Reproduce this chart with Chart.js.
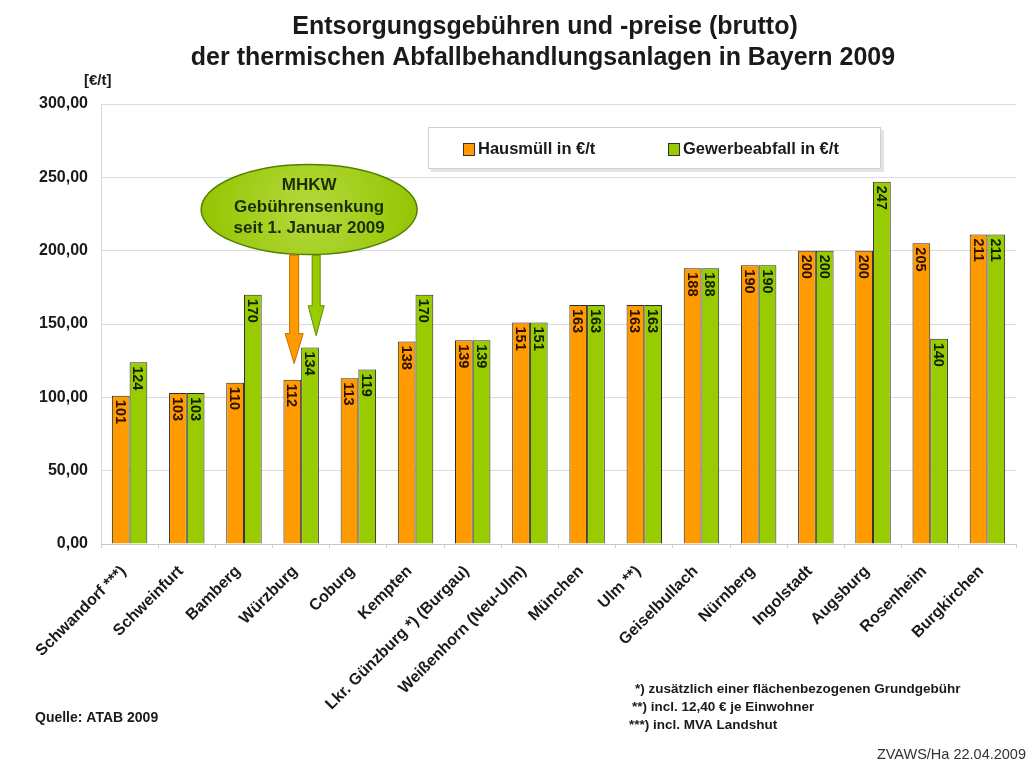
<!DOCTYPE html>
<html lang="de">
<head>
<meta charset="UTF-8">
<title>Entsorgungsgebühren Bayern 2009</title>
<script src="https://cdn.jsdelivr.net/npm/chart.js"></script>
<style>
  html, body { margin: 0; padding: 0; background: #fff; }
  .wrap { position: relative; width: 1028px; height: 763px; }
</style>
</head>
<body>
<div class="wrap"><canvas id="chart" width="1028" height="763"></canvas></div>
<script>
// data
const plants = ["Schwandorf ***)", "Schweinfurt", "Bamberg", "Würzburg", "Coburg", "Kempten",
  "Lkr. Günzburg *) (Burgau)", "Weißenhorn (Neu-Ulm)", "München", "Ulm **)", "Geiselbullach",
  "Nürnberg", "Ingolstadt", "Augsburg", "Rosenheim", "Burgkirchen"];
const hausmuell = [101, 103, 110, 112, 113, 138, 139, 151, 163, 163, 188, 190, 200, 200, 205, 211];
const gewerbe   = [124, 103, 170, 134, 119, 170, 139, 151, 163, 163, 188, 190, 200, 247, 140, 211];
const yTicks = [0, 50, 100, 150, 200, 250, 300];

const ORANGE = "#ff9a00";
const GREEN = "#99cc00";
const FONT = "'Liberation Sans', Arial, sans-serif";

// bar value labels, rotated, inside the top of each bar
const barLabels = {
  id: "barLabels",
  afterDatasetsDraw(chart) {
    const ctx = chart.ctx;
    chart.data.datasets.forEach((ds, i) => {
      chart.getDatasetMeta(i).data.forEach((bar, j) => {
        ctx.save();
        ctx.translate(bar.x, bar.y + 4);
        ctx.rotate(Math.PI / 2);
        ctx.font = "bold 14.5px " + FONT;
        ctx.fillStyle = i === 0 ? "#2e1000" : "#102000";
        ctx.textAlign = "left";
        ctx.textBaseline = "middle";
        ctx.fillText(String(ds.data[j]), 0, 1);
        ctx.restore();
      });
    });
  }
};

// titles, legend, callout and notes
const decorations = {
  id: "decorations",
  afterDraw(chart) {
    const ctx = chart.ctx;
    const x = chart.scales.x, y = chart.scales.y;
    ctx.save();

    ctx.fillStyle = "#1a1a1a";
    ctx.textAlign = "center";
    ctx.textBaseline = "middle";
    ctx.font = "bold 25px " + FONT;
    ctx.fillText("Entsorgungsgebühren und -preise (brutto)", 545, 27);
    ctx.fillText("der thermischen Abfallbehandlungsanlagen in Bayern 2009", 543, 58);

    ctx.font = "bold 15px " + FONT;
    ctx.textAlign = "left";
    ctx.fillText("[€/t]", 84, 81);

    // legend box
    ctx.fillStyle = "#e4e4e4";
    ctx.fillRect(431, 130, 453, 42);
    ctx.fillStyle = "#ffffff";
    ctx.fillRect(428, 127, 453, 42);
    ctx.strokeStyle = "#d0d0d0";
    ctx.lineWidth = 1;
    ctx.strokeRect(428.5, 127.5, 452, 41);
    const items = [[ORANGE, chart.data.datasets[0].label, 463], [GREEN, chart.data.datasets[1].label, 668]];
    ctx.font = "bold 16.5px " + FONT;
    ctx.textBaseline = "middle";
    items.forEach(([c, t, lx]) => {
      ctx.fillStyle = c;
      ctx.fillRect(lx, 143, 11, 12);
      ctx.strokeStyle = "#333";
      ctx.strokeRect(lx + 0.5, 143.5, 11, 12);
      ctx.fillStyle = "#1a1a1a";
      ctx.fillText(t, lx + 15, 149);
    });

    // callout over Würzburg
    const wx = x.getPixelForValue(3);
    const cx = wx + 8;
    const cy = y.getPixelForValue(228);
    const top = y.getPixelForValue(197);

    function arrow(ax, tipVal, color, w, hw) {
      const tip = y.getPixelForValue(tipVal);
      ctx.fillStyle = color;
      ctx.strokeStyle = color === ORANGE ? "#c86a00" : "#5e8a00";
      ctx.lineWidth = 1;
      ctx.beginPath();
      ctx.moveTo(ax - w / 2, top);
      ctx.lineTo(ax + w / 2, top);
      ctx.lineTo(ax + w / 2, tip - 30);
      ctx.lineTo(ax + hw, tip - 30);
      ctx.lineTo(ax, tip);
      ctx.lineTo(ax - hw, tip - 30);
      ctx.lineTo(ax - w / 2, tip - 30);
      ctx.closePath();
      ctx.fill();
      ctx.stroke();
    }
    arrow(wx - 7, 123, ORANGE, 9, 9);
    arrow(wx + 15, 142, GREEN, 8, 8);

    const g = ctx.createRadialGradient(cx, cy, 10, cx, cy, 110);
    g.addColorStop(0, "#b0d838");
    g.addColorStop(1, "#94c400");
    ctx.fillStyle = g;
    ctx.strokeStyle = "#557f00";
    ctx.lineWidth = 1.5;
    ctx.beginPath();
    ctx.ellipse(cx, cy, 108, 45, 0, 0, Math.PI * 2);
    ctx.fill();
    ctx.stroke();
    ctx.fillStyle = "#1c2e00";
    ctx.textAlign = "center";
    ctx.font = "bold 17px " + FONT;
    ctx.fillText("MHKW", cx, cy - 24);
    ctx.fillText("Gebührensenkung", cx, cy - 2);
    ctx.fillText("seit 1. Januar 2009", cx, cy + 19);

    // notes
    ctx.fillStyle = "#1a1a1a";
    ctx.textAlign = "left";
    ctx.font = "bold 14px " + FONT;
    ctx.fillText("Quelle: ATAB 2009", 35, 718);
    ctx.font = "bold 13.5px " + FONT;
    ctx.fillText("*) zusätzlich einer flächenbezogenen Grundgebühr", 635, 689);
    ctx.fillText("**) incl. 12,40 € je Einwohner", 632, 707);
    ctx.fillText("***) incl. MVA Landshut", 629, 725);
    ctx.font = "14.5px " + FONT;
    ctx.textAlign = "right";
    ctx.fillStyle = "#333";
    ctx.fillText("ZVAWS/Ha 22.04.2009", 1026, 755);
    ctx.restore();
  }
};

new Chart(document.getElementById("chart"), {
  type: "bar",
  data: {
    labels: plants,
    datasets: [
      { label: "Hausmüll in €/t", data: hausmuell, backgroundColor: ORANGE, borderColor: "#2a2a2a", borderWidth: 1 },
      { label: "Gewerbeabfall in €/t", data: gewerbe, backgroundColor: GREEN, borderColor: "#2a2a2a", borderWidth: 1 }
    ]
  },
  options: {
    responsive: false,
    animation: false,
    layout: { padding: { top: 104, left: 0, right: 12, bottom: 0 } },
    datasets: { bar: { categoryPercentage: 0.62, barPercentage: 1.0 } },
    plugins: { legend: { display: false }, tooltip: { enabled: false }, title: { display: false } },
    scales: {
      x: {
        afterFit(s) { s.height = 219; },
        grid: { display: true, drawOnChartArea: false, drawTicks: true, tickLength: 4, color: "#c8d0d8" },
        border: { color: "#c8c8c8" },
        ticks: {
          minRotation: 45, maxRotation: 45, autoSkip: false, padding: 14, labelOffset: -6,
          color: "#1a1a1a", font: { family: FONT, size: 16, weight: "bold" }
        }
      },
      y: {
        min: 0, max: 300,
        afterFit(s) { s.width = 101; },
        afterBuildTicks(s) { s.ticks = yTicks.map(v => ({ value: v })); },
        grid: { color: "#dcdcdc", drawTicks: false },
        border: { color: "#d8d8d8" },
        ticks: {
          padding: 13, color: "#1a1a1a", font: { family: FONT, size: 16, weight: "bold" },
          callback: v => v.toFixed(2).replace(".", ",")
        }
      }
    }
  },
  plugins: [barLabels, decorations]
});
</script>
</body>
</html>
